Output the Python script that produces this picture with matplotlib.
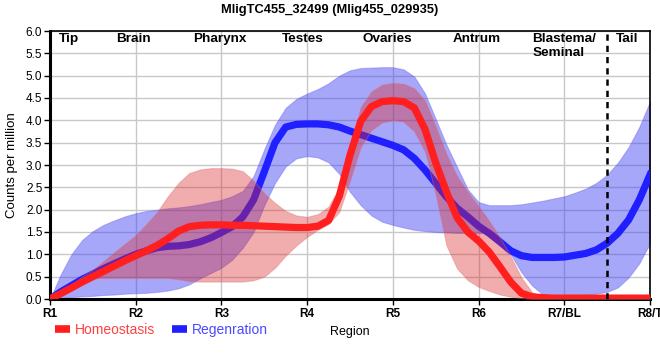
import numpy as np
import matplotlib
matplotlib.use("Agg")
import matplotlib.pyplot as plt
from matplotlib.lines import Line2D

plt.rcParams['font.family'] = ['Liberation Sans', 'DejaVu Sans']

# x positions in region-index units (R1 = 0 ... R8/T = 7), eighth steps
pos = np.arange(57) / 8
tick_labels = ["R1", "R2", "R3", "R4", "R5", "R6", "R7/BL", "R8/T"]

homeo_mean = [0.0, 0.12, 0.25, 0.38, 0.5, 0.62, 0.74, 0.86,
              0.97, 1.08, 1.2, 1.35, 1.52, 1.62, 1.65, 1.66,
              1.66, 1.65, 1.65, 1.64, 1.63, 1.62, 1.61, 1.6,
              1.6, 1.63, 1.76, 2.3, 3.22, 3.98, 4.31, 4.42,
              4.44, 4.42, 4.28, 3.8, 3.05, 2.4, 1.82, 1.5,
              1.3, 1.05, 0.72, 0.38, 0.13, 0.05, 0.03, 0.02,
              0.02, 0.02, 0.02, 0.02, 0.02, 0.02, 0.02, 0.02, 0.02]
homeo_upper = [0.0, 0.17, 0.33, 0.5, 0.66, 0.85, 1.05, 1.24,
               1.43, 1.68, 1.95, 2.3, 2.6, 2.82, 2.9, 2.93,
               2.93, 2.92, 2.86, 2.65, 2.37, 2.15, 1.97, 1.87,
               1.84, 1.9, 2.07, 2.5, 3.4, 4.3, 4.65, 4.8,
               4.84, 4.82, 4.72, 4.45, 3.87, 3.25, 2.75, 2.4,
               2.08, 1.75, 1.38, 0.95, 0.48, 0.15, 0.05, 0.04,
               0.04, 0.04, 0.04, 0.04, 0.04, 0.04, 0.04, 0.04, 0.04]
homeo_lower = [0.0, 0.08, 0.18, 0.35, 0.46, 0.47, 0.47, 0.47,
               0.47, 0.47, 0.47, 0.47, 0.44, 0.4, 0.39, 0.39,
               0.39, 0.39, 0.39, 0.42, 0.5, 0.7, 0.97, 1.2,
               1.39, 1.55, 1.68, 1.95, 2.65, 3.4, 3.78, 3.95,
               4.0, 3.97, 3.75, 3.3, 2.33, 1.2, 0.68, 0.42,
               0.27, 0.18, 0.1, 0.05, 0.02, 0.0, 0.0, 0.0,
               0.0, 0.0, 0.0, 0.0, 0.0, 0.0, 0.0, 0.0, 0.0]

regen_mean = [0.0, 0.16, 0.3, 0.44, 0.56, 0.68, 0.79, 0.9,
              1.0, 1.08, 1.15, 1.18, 1.19, 1.22, 1.28, 1.37,
              1.49, 1.62, 1.84, 2.22, 2.85, 3.5, 3.85, 3.91,
              3.92, 3.92, 3.9, 3.85, 3.76, 3.68, 3.6, 3.52,
              3.44, 3.34, 3.15, 2.89, 2.59, 2.29, 2.03, 1.84,
              1.63, 1.47, 1.28, 1.08, 0.97, 0.93, 0.93, 0.93,
              0.94, 0.98, 1.02, 1.1, 1.25, 1.47, 1.77, 2.22, 2.78]
regen_upper = [0.0, 0.55, 1.0, 1.32, 1.52, 1.66, 1.76, 1.85,
               1.92, 1.97, 2.0, 2.03, 2.05, 2.08, 2.12, 2.17,
               2.22, 2.3, 2.42, 2.75, 3.35, 3.9, 4.28, 4.48,
               4.6, 4.7, 4.83, 5.0, 5.12, 5.17, 5.18, 5.19,
               5.19, 5.14, 4.98, 4.6, 4.03, 3.45, 2.95, 2.45,
               2.17, 2.1, 2.1, 2.1, 2.12, 2.16, 2.2, 2.25,
               2.3, 2.38, 2.47, 2.6, 2.78, 3.05, 3.4, 3.85, 4.42]
regen_lower = [0.0, 0.02, 0.04, 0.06, 0.07, 0.09, 0.1, 0.12,
               0.13, 0.14, 0.16, 0.19, 0.24, 0.33, 0.46, 0.58,
               0.7, 0.88, 1.15, 1.5, 2.1, 2.6, 2.97, 3.15,
               3.2, 3.17, 3.06, 2.8, 2.4, 2.1, 1.87, 1.73,
               1.66, 1.6, 1.55, 1.52, 1.5, 1.49, 1.48, 1.48,
               1.48, 1.48, 1.4, 1.0, 0.6, 0.3, 0.1, 0.06,
               0.05, 0.06, 0.09, 0.12, 0.16, 0.26, 0.48, 0.8, 1.25]

region_names = ["Tip", "Brain", "Pharynx", "Testes", "Ovaries", "Antrum", "Blastema/\nSeminal", "Tail"]
region_pos = [0.22, 0.97, 1.98, 2.95, 3.94, 4.98, 6.0, 6.73]

red = "#ff1f1f"
blue = "#1f1fff"

fig = plt.figure(figsize=(6.6, 3.6), dpi=100)
ax = fig.add_axes([50 / 660, 61 / 360, 600 / 660, 268 / 360])

ax.fill_between(pos, regen_lower, regen_upper, color="#3c3cf5", alpha=0.45, lw=0.8,
                edgecolor="#6a6af0", zorder=2)
ax.plot(pos, regen_mean, color=blue, lw=5.2, solid_joinstyle="round", zorder=3)
ax.fill_between(pos, homeo_lower, homeo_upper, color="#dc2828", alpha=0.38, lw=0.8,
                edgecolor="#e07070", zorder=4)
ax.plot(pos, homeo_mean, color=red, lw=5.2, solid_joinstyle="round", zorder=5)

ax.axvline(6.5, color="black", lw=1.8, ls=(0, (2.5, 2)), zorder=6)

ax.set_xlim(0, 7)
ax.set_ylim(0, 6)
ax.set_xticks(range(8))
ax.set_xticklabels(tick_labels, fontweight="bold", fontsize=8.5)
ax.set_yticks(np.arange(0, 6.01, 0.5))
ax.set_yticklabels([f"{v:.1f}" for v in np.arange(0, 6.01, 0.5)], fontsize=8.5)
ax.tick_params(axis="x", length=4, width=1, pad=2.5)
ax.tick_params(axis="y", length=4, width=1, pad=1.5)
ax.grid(True, color="#c8c8c8", lw=1, zorder=0)
ax.set_axisbelow(True)

for side in ["left", "bottom"]:
    ax.spines[side].set_linewidth(2.2)
for side in ["top", "right"]:
    ax.spines[side].set_linewidth(1.2)

ax.set_ylabel("Counts per million", fontsize=9.5)
ax.yaxis.set_label_coords(-32 / 600, 0.5)
ax.set_xlabel("Region", fontsize=9)
ax.xaxis.set_label_coords(0.5, -0.1)

for name, p in zip(region_names, region_pos):
    ax.text(p, 5.95, name, ha="center", va="top", fontsize=9.7, fontweight="bold",
            multialignment="left", zorder=7)

fig.text(0.5, 0.973, "MligTC455_32499 (Mlig455_029935)", ha="center", va="center",
         fontsize=9.3, fontweight="bold")

handles = [Line2D([], [], color=red, lw=5.5, solid_capstyle="butt"),
           Line2D([], [], color=blue, lw=5.5, solid_capstyle="butt")]
leg = fig.legend(handles, ["Homeostasis", "Regenration"], loc="center left",
                 bbox_to_anchor=(55 / 660, 1 - 330 / 360), ncol=2, frameon=False,
                 fontsize=10, handlelength=1.1, handletextpad=0.3, columnspacing=1.25,
                 borderpad=0, borderaxespad=0)
for txt, c in zip(leg.get_texts(), ["#ff4040", "#4a4aff"]):
    txt.set_color(c)

fig.savefig("out.png", dpi=100)
